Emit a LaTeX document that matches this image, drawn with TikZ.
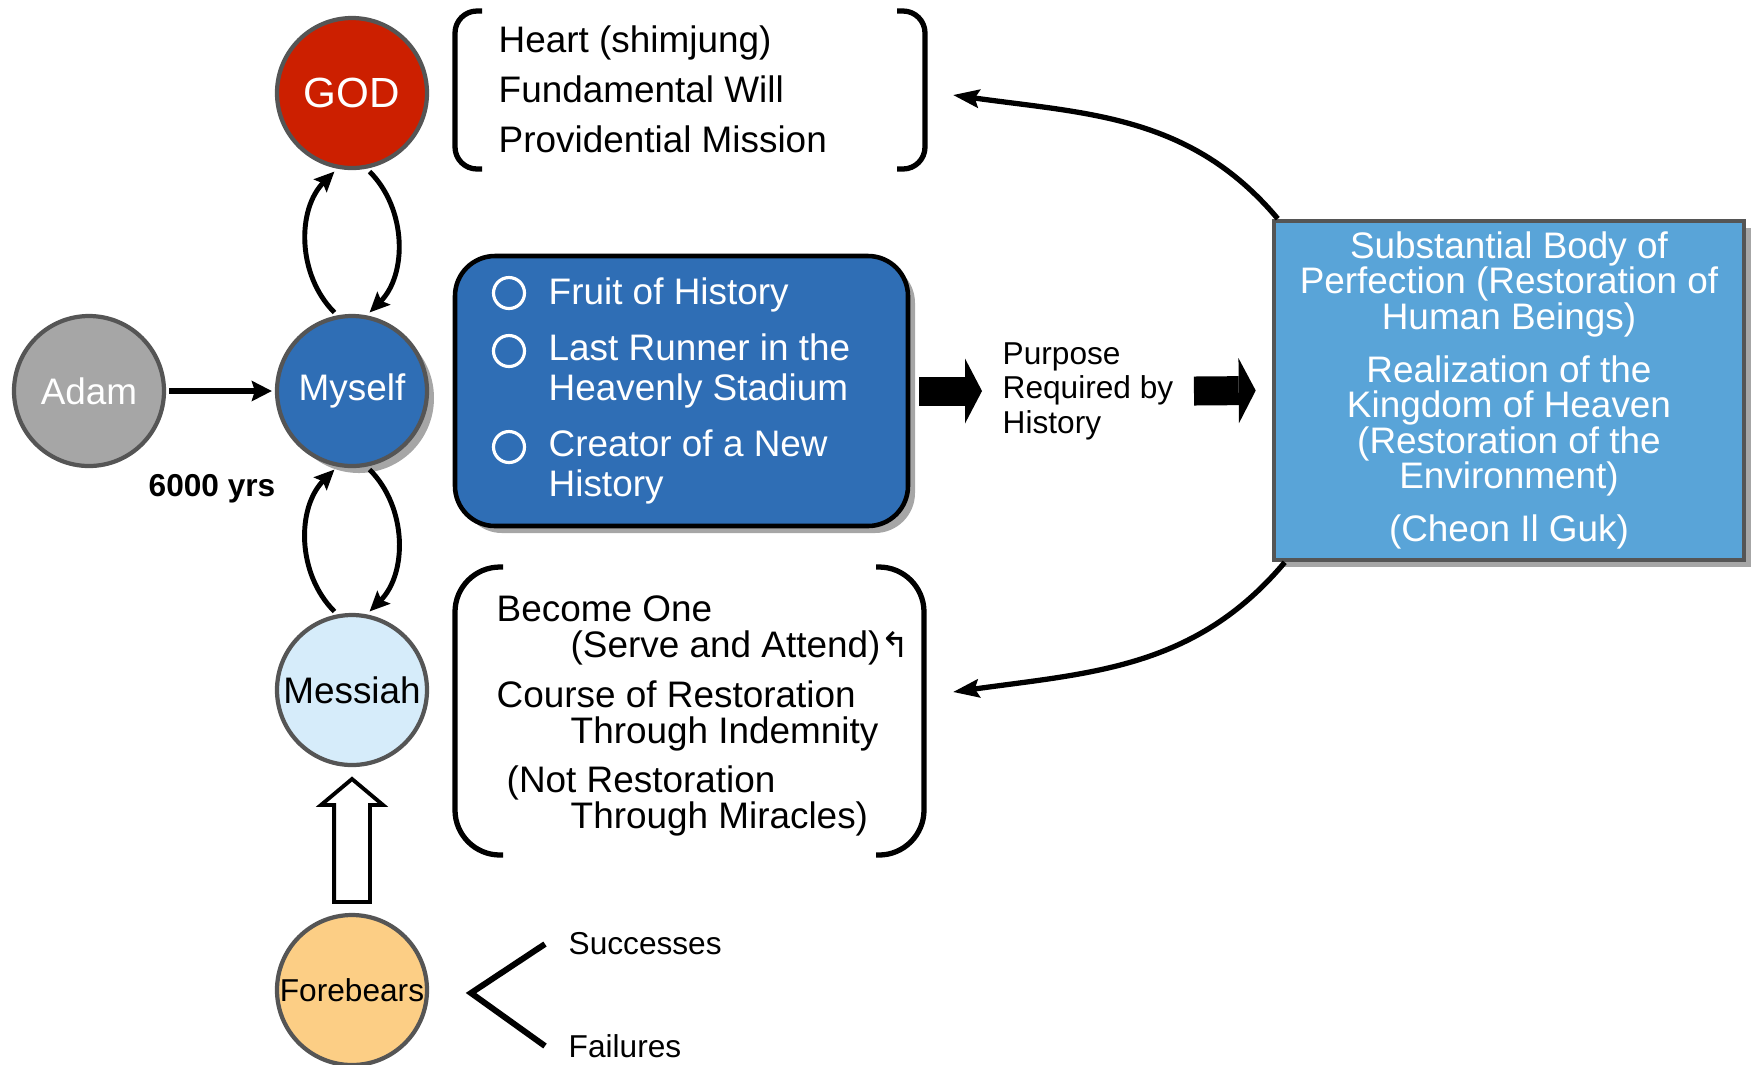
\documentclass[tikz,border=0pt]{standalone}
\usepackage{fontspec}
\setmainfont{Liberation Sans}
\newfontfamily\arrowglyphs{DejaVu Sans}
\usepackage{tikz}
\usetikzlibrary{arrows.meta, shapes.arrows, shadows, calc, positioning}
\definecolor{godred}{RGB}{204, 31, 0}
\definecolor{selfblue}{RGB}{47, 110, 181}
\definecolor{skyblue}{RGB}{89, 164, 216}
\definecolor{messblue}{RGB}{214, 236, 250}
\definecolor{forebear}{RGB}{252, 206, 133}
\definecolor{adamgray}{RGB}{166, 166, 166}
\definecolor{rimgray}{RGB}{85, 85, 85}

\begin{document}
\begin{tikzpicture}[
    person/.style={
      circle, draw=rimgray, line width=1.2pt, minimum size=1.5cm,
      inner sep=0pt, font=\fontsize{10.5}{12}\selectfont
    },
    txt/.style={inner sep=0pt, align=left, font=\fontsize{10.5}{14.2}\selectfont},
    fruititem/.style={txt, text=white, font=\fontsize{10.5}{11.4}\selectfont},
    small/.style={inner sep=0pt, align=left, font=\fontsize{9}{9.8}\selectfont},
    exch/.style={-{Stealth[length=2mm, width=1.8mm, inset=0.35mm]}, line width=1.4pt,
      shorten <=0.4mm, shorten >=0.4mm},
    arr/.style={-{Stealth[length=2.6mm, width=1.8mm, inset=0.4mm]}, line width=1.5pt},
    blockarr/.style={-{Triangle[length=1.7mm, width=6.5mm, line width=0pt]}, line width=2.9mm},
    brace/.style={line width=1.5pt},
    bullet/.style={circle, draw=white, line width=0.9pt, minimum size=3.1mm, inner sep=0pt},
    dropshade/.style={drop shadow={shadow xshift=0.7mm, shadow yshift=-0.7mm,
      opacity=0.35, fill=black}}
  ]

  \useasboundingbox (0,0) rectangle (17.52,-10.64);

  % ── Left column: persons ───────────────────────────────────────
  \node[person, fill=godred, text=white, font=\fontsize{12}{14}\selectfont] (god) at (3.52,-0.93) {GOD};
  \node[person, fill=selfblue, text=white, dropshade] (myself) at (3.52,-3.91) {Myself};
  \node[person, fill=adamgray, text=white] (adam) at (0.89,-3.91) {Adam};
  \node[person, fill=messblue] (messiah) at (3.52,-6.90) {Messiah};
  \node[person, fill=forebear, font=\fontsize{9}{11}\selectfont] (forebears) at (3.52,-9.90) {Forebears};

  \draw[-{Stealth[length=2mm, width=2mm, inset=0.3mm]}, line width=1.7pt,
    shorten <=0.3mm, shorten >=0.3mm] (adam) -- (myself);
  \node[font=\bfseries\fontsize{9}{11}\selectfont] (yrs) at (2.12,-4.89) {6000 yrs};

  \draw[exch] (myself.101) to[bend left=45] (god.259);
  \draw[exch] (god.281) to[bend left=45] (myself.79);
  \draw[exch] (messiah.101) to[bend left=45] (myself.259);
  \draw[exch] (myself.281) to[bend left=45] (messiah.79);

  \node[single arrow, draw=black, fill=white, line width=1.1pt, rotate=90,
    minimum height=1.23cm, single arrow head extend=0.13cm,
    single arrow tip angle=100, inner xsep=0pt, inner ysep=1.6mm]
    (rise) at ($(forebears.north)!0.5!(messiah.south)+(0,-0.08)$) {};

  % ── God's side ─────────────────────────────────────────────────
  \draw[brace, rounded corners=2.2mm] (4.82,-0.11) -- (4.55,-0.11) -- (4.55,-1.69) -- (4.82,-1.69);
  \draw[brace, rounded corners=2.2mm] (8.97,-0.11) -- (9.25,-0.11) -- (9.25,-1.69) -- (8.97,-1.69);
  \node[txt, anchor=west] (godlist) at (4.98,-0.895)
    {Heart (shimjung)\\Fundamental Will\\Providential Mission};

  % ── My position ────────────────────────────────────────────────
  \node[rectangle, rounded corners=4mm, draw=black, line width=1.3pt, fill=selfblue,
    minimum width=4.53cm, minimum height=2.70cm, dropshade] (fruitbox) at (6.815,-3.91) {};
  \node[bullet] (b1) at (5.09,-2.93) {};
  \node[bullet] (b2) at (5.09,-3.51) {};
  \node[bullet] (b3) at (5.09,-4.47) {};
  \node[fruititem, anchor=west] (fruit) at (5.48,-2.95) {Fruit of History};
  \node[fruititem, anchor=west] (runner) at (5.48,-3.71) {Last Runner in the\\Heavenly Stadium};
  \node[fruititem, anchor=west] (creator) at (5.48,-4.67) {Creator of a New\\History};

  \node[small, anchor=west] (purpose) at (10.02,-3.91) {Purpose\\Required by\\History};
  \draw[blockarr] ([xshift=0.9mm]fruitbox.east) -- ([xshift=-2mm]purpose.west);

  \node[rectangle, draw=rimgray, line width=1.3pt, fill=skyblue, text=white,
    minimum width=4.70cm, minimum height=3.39cm, align=center, inner sep=0pt,
    dropshade, font=\fontsize{10.5}{10.1}\selectfont] (goalbox) at (15.09,-3.905)
    {Substantial Body of\\Perfection (Restoration of\\Human Beings)\\[5pt]%
     Realization of the\\Kingdom of Heaven\\(Restoration of the\\Environment)\\[5pt]%
     (Cheon Il Guk)};
  \draw[blockarr] ([xshift=2mm]purpose.east) -- ([xshift=-1.6mm]goalbox.west);

  % ── Messiah's side ─────────────────────────────────────────────
  \draw[brace, rounded corners=4.5mm] (5.03,-5.67) -- (4.55,-5.67) -- (4.55,-8.55) -- (5.03,-8.55);
  \draw[brace, rounded corners=4.5mm] (8.76,-5.67) -- (9.24,-5.67) -- (9.24,-8.55) -- (8.76,-8.55);
  \node[txt, anchor=west, font=\fontsize{10.5}{10.2}\selectfont] (messlist) at (4.96,-7.16)
    {Become One\\
     \hspace*{7.4mm}(Serve and Attend){\arrowglyphs\fontsize{10}{10}\selectfont ↰}\\[4pt]
     Course of Restoration\\
     \hspace*{7.4mm}Through Indemnity\\[4pt]
     \hspace*{1mm}(Not Restoration\\
     \hspace*{7.4mm}Through Miracles)};

  % ── Feedback from the goal ─────────────────────────────────────
  \coordinate (godin) at (9.53,-0.95);
  \coordinate (messin) at (9.53,-6.92);
  \draw[arr] ([xshift=0.6mm]goalbox.north west) to[out=130, in=-8] (godin);
  \draw[arr] ([xshift=1.3mm]goalbox.south west) to[out=-130, in=8] (messin);

  % ── Forebears ──────────────────────────────────────────────────
  \node[small, anchor=west] (succ) at (5.68,-9.44) {Successes};
  \node[small, anchor=west] (fail) at (5.68,-10.46) {Failures};
  \coordinate (fork) at (4.71,-9.93);
  \draw[brace, line width=1.7pt] ([xshift=-2.3mm]succ.west) -- (fork) -- ([xshift=-2.3mm]fail.west);

\end{tikzpicture}
\end{document}
